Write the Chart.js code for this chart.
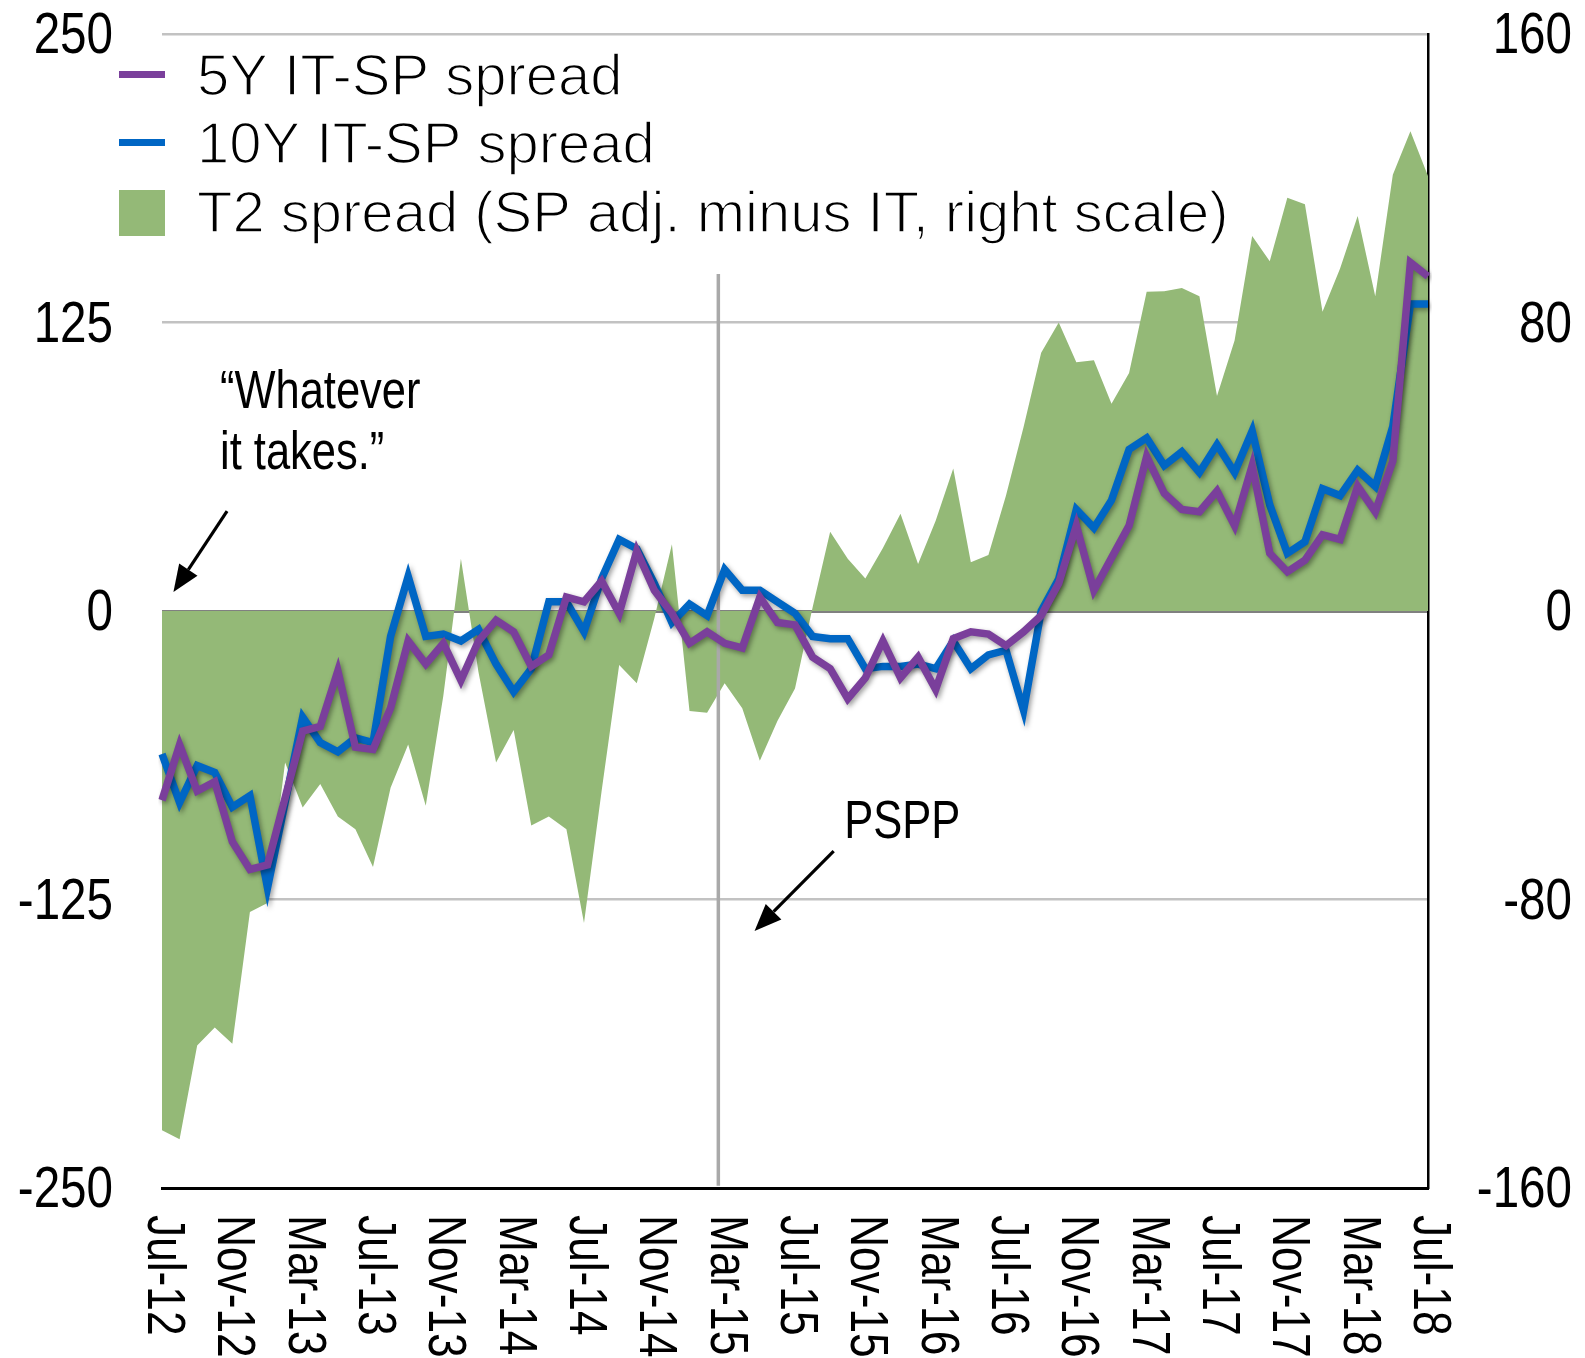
<!DOCTYPE html>
<html><head><meta charset="utf-8">
<script src="https://cdn.jsdelivr.net/npm/chart.js@4.4.1/dist/chart.umd.min.js"></script>
<style>
html,body{margin:0;padding:0;background:#fff;}
#wrap{position:relative;width:1585px;height:1358px;}
</style></head><body>
<div id="wrap"><canvas id="c" width="1585" height="1358"></canvas></div>
<script>
// ---------- data ----------
const months = [
 'Jul-12','Aug-12','Sep-12','Oct-12','Nov-12','Dec-12',
 'Jan-13','Feb-13','Mar-13','Apr-13','May-13','Jun-13','Jul-13','Aug-13','Sep-13','Oct-13','Nov-13','Dec-13',
 'Jan-14','Feb-14','Mar-14','Apr-14','May-14','Jun-14','Jul-14','Aug-14','Sep-14','Oct-14','Nov-14','Dec-14',
 'Jan-15','Feb-15','Mar-15','Apr-15','May-15','Jun-15','Jul-15','Aug-15','Sep-15','Oct-15','Nov-15','Dec-15',
 'Jan-16','Feb-16','Mar-16','Apr-16','May-16','Jun-16','Jul-16','Aug-16','Sep-16','Oct-16','Nov-16','Dec-16',
 'Jan-17','Feb-17','Mar-17','Apr-17','May-17','Jun-17','Jul-17','Aug-17','Sep-17','Oct-17','Nov-17','Dec-17',
 'Jan-18','Feb-18','Mar-18','Apr-18','May-18','Jun-18','Jul-18'];

const spread5y = [
 -82,-58,-78,-74,-100,-112,-110,-81,-52,-50,
 -26,-59,-60,-42,-13,-23,-14,-30,-13,-4,
 -9,-24,-19,6,4,13,-1,26,9,-1,
 -14,-9,-14,-16,6,-5,-6,-20,-25,-38,
 -29,-13,-29,-20,-34,-12,-9,-10,-15,-9,
 -2,12,37,9,23,37,67,51,44,43,
 52,37,63,25,17,22,33,31,54,43,
 65,151,145];

const spread10y = [
 -62,-83,-67,-70,-85,-80,-120,-83,-46,-57,
 -61,-55,-57,-11,15,-11,-10,-13,-8,-23,
 -35,-25,4,4,-9,14,31,27,12,-5,
 3,-2,18,9,9,4,-1,-11,-12,-12,
 -25,-24,-24,-23,-25,-13,-25,-19,-17,-43,
 0,14,44,36,48,70,75,63,69,60,
 72,60,78,46,25,30,53,50,61,54,
 80,133,133];

const t2Spread = [
 -144,-146.5,-120.5,-115.5,-120,-83.5,-81,-42,-54.5,-48,
 -57,-60.5,-71,-49,-37,-54,-23.5,14.5,-17,-42,
 -33,-59.5,-57,-60.5,-86.5,-50,-15,-20,-2,18.5,
 -27.7,-28.2,-20,-27,-41.5,-30.5,-21.5,1,22,14.5,
 9,17.5,27,13,25,39.5,13.5,15.5,32,51,
 71.6,80,69,69.5,57.5,66,88.5,88.7,89.6,87.3,
 59.6,75,104,97,114.6,112.8,83,95,109.5,87.3,
 121,133,120.6];

const leftTicks = [-250,-125,0,125,250];
const rightTicks = [-160,-80,0,80,160];
const xLabelEvery = 4;

const seriesNames = ['5Y IT-SP spread','10Y IT-SP spread','T2 spread (SP adj. minus IT, right scale)'];
const quoteLines = ['\u201CWhatever','it takes.\u201D'];
const psppLabel = 'PSPP';
const psppIndex = 31.64;   // PSPP start (between Feb-15 and Mar-15)

// ---------- styles ----------
const PURPLE = '#7a3f9b';
const BLUE = '#0066c4';
const GREEN = '#94b977';
const FONT = "'Liberation Sans',Arial,sans-serif";
const NARROW_X = 0.82;   // horizontal condensing of the narrow face

function narrowText(c, text, x, y, size, align, rot) {
  c.save();
  c.translate(x, y);
  if (rot) c.rotate(rot);
  c.scale(NARROW_X, 1);
  c.font = size + 'px ' + FONT;
  c.textAlign = align;
  c.fillText(text, 0, 0);
  c.restore();
}

const shadowPlugin = {
  id: 'shadows',
  beforeDatasetDraw(chart, args) {
    const c = chart.ctx; c.save();
    c.shadowColor = 'rgba(0,0,0,0.38)';
    c.shadowBlur = 5; c.shadowOffsetX = 2; c.shadowOffsetY = 2.5;
  },
  afterDatasetDraw(chart, args) {
    chart.ctx.restore();
    if (args.index === 2) {
      const c = chart.ctx, xs = chart.scales.x, ys = chart.scales.y;
      const x = xs.getPixelForValue(psppIndex);
      c.save();
      c.strokeStyle = '#a9a9a9'; c.lineWidth = 3.5;
      c.beginPath(); c.moveTo(x, ys.getPixelForValue(146)); c.lineTo(x, ys.getPixelForValue(-249)); c.stroke();
      c.restore();
    }
  }
};

function arrow(c, x1, y1, x2, y2) {
  const ang = Math.atan2(y2 - y1, x2 - x1);
  const hl = 27, hw = 11;
  const bx = x2 - hl * Math.cos(ang), by = y2 - hl * Math.sin(ang);
  c.save();
  c.strokeStyle = '#000'; c.fillStyle = '#000'; c.lineWidth = 3.2;
  c.beginPath(); c.moveTo(x1, y1); c.lineTo(bx, by); c.stroke();
  c.beginPath();
  c.moveTo(x2, y2);
  c.lineTo(bx + hw * Math.sin(ang), by - hw * Math.cos(ang));
  c.lineTo(bx - hw * Math.sin(ang), by + hw * Math.cos(ang));
  c.closePath(); c.fill();
  c.restore();
}

const decorPlugin = {
  id: 'decor',
  afterDraw(chart) {
    const c = chart.ctx, xs = chart.scales.x, ys = chart.scales.y, y1 = chart.scales.y1;
    const area = chart.chartArea;
    c.save();
    c.fillStyle = '#000';
    c.textBaseline = 'middle';
    // y tick labels (left and right), from the scales' ticks
    ys.ticks.forEach(t => narrowText(c, String(t.value), area.left - 49, ys.getPixelForValue(t.value) + 3, 58, 'right'));
    y1.ticks.forEach(t => narrowText(c, String(t.value), area.right + 144, y1.getPixelForValue(t.value) + 3, 58, 'right'));
    // x tick labels, rotated clockwise (read top to bottom)
    months.forEach((m, i) => {
      if (i % xLabelEvery !== 0) return;
      narrowText(c, m, xs.getPixelForValue(i) + 1, area.bottom + 27, 54, 'left', Math.PI / 2);
    });
    c.restore();

    // legend
    const ds = chart.data.datasets;
    c.save();
    c.lineCap = 'butt';
    c.strokeStyle = ds[0].borderColor; c.lineWidth = 7;
    c.beginPath(); c.moveTo(119, 74.5); c.lineTo(165, 74.5); c.stroke();
    c.strokeStyle = ds[1].borderColor;
    c.beginPath(); c.moveTo(119, 142.5); c.lineTo(165, 142.5); c.stroke();
    c.fillStyle = ds[2].backgroundColor; c.fillRect(119, 190, 46, 46);
    c.font = '58px ' + FONT; c.textBaseline = 'alphabetic'; c.textAlign = 'left';
    c.strokeStyle = '#fff'; c.lineWidth = 1.6; c.lineJoin = 'round';
    [[0, 95], [1, 163], [2, 232]].forEach(([k, y]) => {
      c.fillStyle = '#000';
      c.fillText(ds[k].label, 197, y);
      c.strokeText(ds[k].label, 197, y);   // thins the strokes toward a light face
    });
    c.restore();

    // annotations
    c.save();
    c.fillStyle = '#000'; c.textBaseline = 'alphabetic';
    narrowText(c, quoteLines[0], xs.getPixelForValue(3.3), ys.getPixelForValue(88), 53, 'left');
    narrowText(c, quoteLines[1], xs.getPixelForValue(3.3), ys.getPixelForValue(61.5), 53, 'left');
    arrow(c, xs.getPixelForValue(3.7), ys.getPixelForValue(43.3), xs.getPixelForValue(0.65), ys.getPixelForValue(8.2));
    narrowText(c, psppLabel, xs.getPixelForValue(38.8), ys.getPixelForValue(-98.4), 53, 'left');
    arrow(c, xs.getPixelForValue(38.2), ys.getPixelForValue(-104), xs.getPixelForValue(33.7), ys.getPixelForValue(-138.6));
    c.restore();
  }
};

new Chart(document.getElementById('c'), {
  type: 'line',
  data: {
    labels: months,
    datasets: [
      { label: seriesNames[0], data: spread5y, yAxisID: 'y', borderColor: PURPLE, borderWidth: 7.5,
        pointRadius: 0, tension: 0, fill: false, borderJoinStyle: 'miter' },
      { label: seriesNames[1], data: spread10y, yAxisID: 'y', borderColor: BLUE, borderWidth: 7.5,
        pointRadius: 0, tension: 0, fill: false, borderJoinStyle: 'miter' },
      { label: seriesNames[2], data: t2Spread, yAxisID: 'y1', borderWidth: 0, borderColor: 'rgba(0,0,0,0)',
        backgroundColor: GREEN, pointRadius: 0, tension: 0, fill: 'origin' }
    ]
  },
  options: {
    responsive: false, animation: false, devicePixelRatio: 1,
    layout: { padding: { top: 34, left: 0, right: 0, bottom: 0 } },
    plugins: { legend: { display: false }, tooltip: { enabled: false } },
    scales: {
      x: {
        grid: { display: false, drawTicks: false },
        border: { display: true, color: '#000', width: 3 },
        ticks: { display: false },
        afterFit(s) { s.height = 170; }
      },
      y: {
        position: 'left', min: leftTicks[0], max: leftTicks[leftTicks.length - 1],
        afterBuildTicks(s) { s.ticks = leftTicks.map(v => ({ value: v })); },
        ticks: { display: false },
        grid: {
          drawTicks: false,
          color: ctx => ctx.tick.value === 0 ? '#808080' : (ctx.tick.value === leftTicks[0] ? 'rgba(0,0,0,0)' : '#c2c2c2'),
          lineWidth: ctx => ctx.tick.value === 0 ? 3 : 2.5
        },
        border: { display: false },
        afterFit(s) { s.width = 162; }
      },
      y1: {
        position: 'right', min: rightTicks[0], max: rightTicks[rightTicks.length - 1],
        afterBuildTicks(s) { s.ticks = rightTicks.map(v => ({ value: v })); },
        ticks: { display: false },
        grid: { display: false, drawTicks: false },
        border: { display: true, color: '#000', width: 2.5 },
        afterFit(s) { s.width = 157; }
      }
    }
  },
  plugins: [shadowPlugin, decorPlugin]
});
</script>
</body></html>
